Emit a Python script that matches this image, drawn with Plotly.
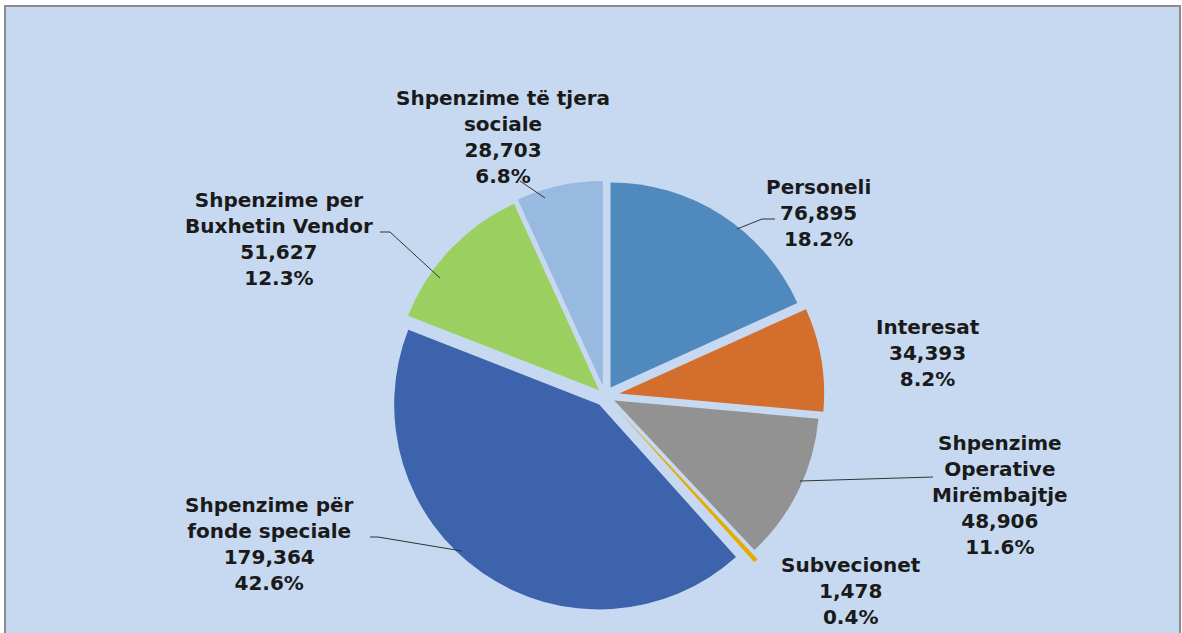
import plotly.graph_objects as go

W, H = 1182, 633

# Data (clockwise from 12 o'clock)
categories = [
    "Personeli",
    "Interesat",
    "Shpenzime Operative Mirëmbajtje",
    "Subvecionet",
    "Shpenzime për fonde speciale",
    "Shpenzime per Buxhetin Vendor",
    "Shpenzime të tjera sociale",
]
label_lines = [
    "Personeli",
    "Interesat",
    "Shpenzime<br>Operative<br>Mirëmbajtje",
    "Subvecionet",
    "Shpenzime për<br>fonde speciale",
    "Shpenzime per<br>Buxhetin Vendor",
    "Shpenzime të tjera<br>sociale",
]
values = [76895, 34393, 48906, 1478, 179364, 51627, 28703]
colors = ["#4F89BD", "#D36E2C", "#929292", "#E6AA00", "#3C63AB", "#9BD060", "#98B9E0"]
pulls = [0.05, 0.07, 0.05, 0.09, 0.05, 0.04, 0.05]

total = sum(values)


def px(x):
    return x / W


def py(y):
    return 1 - y / H


# pie box in pixels
cx, cy, r = 605, 396, 205
half = r * (1 + max(pulls))

fig = go.Figure()
fig.add_trace(
    go.Pie(
        labels=categories,
        values=values,
        sort=False,
        direction="clockwise",
        rotation=0,
        pull=pulls,
        marker=dict(colors=colors, line=dict(width=0)),
        textinfo="none",
        hovertemplate="%{label}<br>%{value:,}<br>%{percent:.1%}<extra></extra>",
        domain=dict(x=[px(cx - half), px(cx + half)], y=[py(cy + half), py(cy - half)]),
        showlegend=False,
    )
)

# label positions (pixel centres)
label_pos = [(818, 213), (928, 353), (1000, 495), (851, 591), (269, 544), (279, 239), (503, 137)]
for name, v, (x, y) in zip(label_lines, values, label_pos):
    fig.add_annotation(
        x=px(x), y=py(y), xref="paper", yref="paper",
        xanchor="center", yanchor="middle",
        text=f"<b>{name}<br>{v:,}<br>{v / total * 100:.1f}%</b>",
        showarrow=False, align="center",
        font=dict(family="DejaVu Sans", size=20, color="#1A1A1A"),
    )

# leader lines
leaders = [
    [(775, 219), (762, 219), (737, 229)],
    [(933, 477), (800, 481)],
    [(370, 537), (378, 537), (462, 551)],
    [(380, 232), (390, 232), (440, 278)],
    [(520, 181), (545, 198)],
]
for pts in leaders:
    path = "M " + " L ".join(f"{px(a)} {py(b)}" for a, b in pts)
    fig.add_shape(type="path", path=path, xref="paper", yref="paper",
                  line=dict(color="#333333", width=1))

# chart area background with border
fig.add_shape(type="rect", xref="paper", yref="paper", layer="below",
              x0=px(5), x1=px(1180), y0=-0.05, y1=py(6),
              fillcolor="#C6D9F0", line=dict(color="#8C8C8C", width=2))

fig.update_layout(
    width=W, height=H,
    margin=dict(l=0, r=0, t=0, b=0),
    paper_bgcolor="white",
    plot_bgcolor="white",
)

fig.write_html("out.html", config={"displayModeBar": False},
               post_script="document.body.style.margin='0';")
